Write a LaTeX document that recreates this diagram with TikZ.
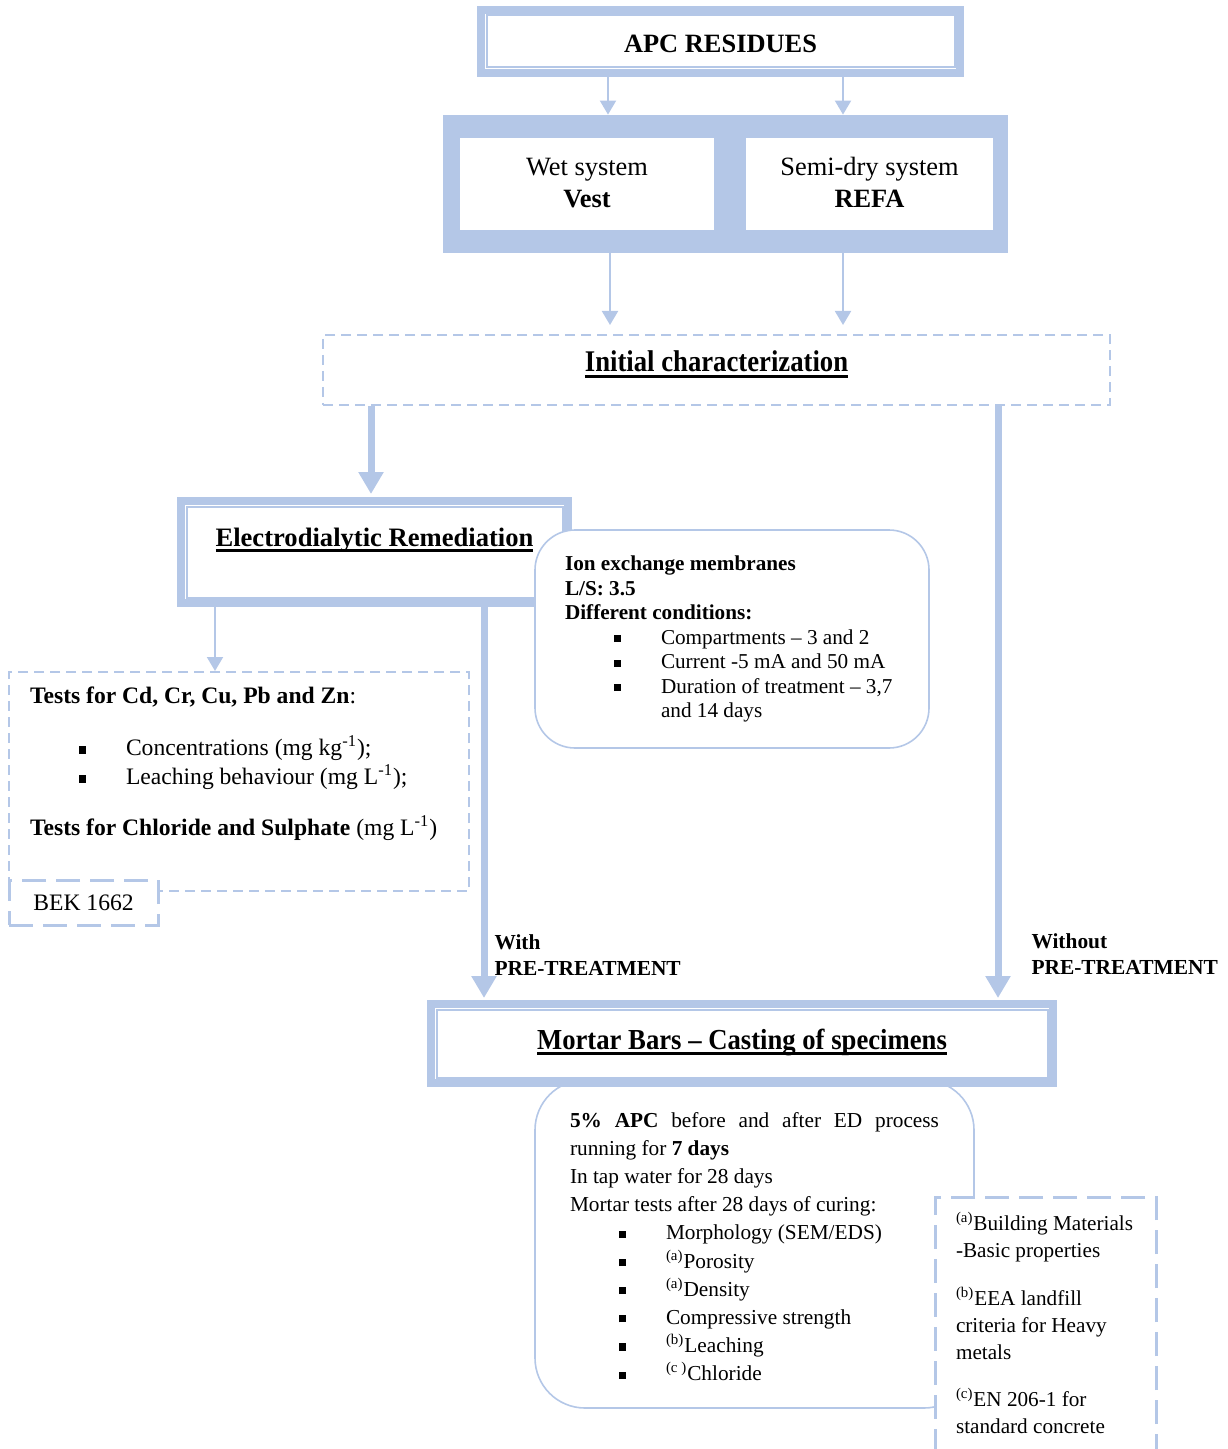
\documentclass[tikz,border=0pt]{standalone}
\usepackage{fontspec}
\setmainfont{Liberation Serif}
\usepackage{graphicx}
\usetikzlibrary{arrows.meta,calc}
\definecolor{lb}{RGB}{180,199,231}
\newsavebox{\ulbox}
\newcommand{\thul}[1]{\sbox{\ulbox}{#1}\rlap{\rule[-3pt]{\wd\ulbox}{1.5pt}}\usebox{\ulbox}}
\newcommand{\sqitem}[1]{\hspace*{24.5pt}\makebox[23.5pt][l]{\rule[1pt]{3.6pt}{3.6pt}}#1}
\begin{document}
\begin{tikzpicture}[x=0.5pt,y=-0.5pt,
  band/.style={draw=lb, line width=4pt, fill=white, inner sep=0pt},
  thinarr/.style={draw=lb, line width=1pt, -{Triangle[width=8pt,length=7pt]}},
  thickarr/.style={draw=lb, line width=3.5pt, -{Triangle[width=12pt,length=11pt]}},
  dashbox/.style={draw=lb, line width=1pt, dash pattern=on 5pt off 3pt, fill=white},
  longdash/.style={draw=lb, line width=1.5pt, dash pattern=on 12pt off 5pt, fill=white},
  roundbox/.style={draw=lb, line width=0.8pt, fill=white},
  innerline/.style={draw=lb, line width=1pt},
  lbl/.style={inner sep=0pt, align=left, font=\fontsize{10.7pt}{13pt}\selectfont\bfseries}
]
\useasboundingbox (0,0) rectangle (1227,1449);

% APC residues
\node[band, minimum width=239.5pt, minimum height=31.5pt] (apc) at (720.5,41.5)
  {\raisebox{-5.75pt}[0pt][0pt]{\fontsize{13.2pt}{15pt}\selectfont\bfseries APC RESIDUES}};
\draw[innerline] ([shift={(4.75pt,-4.75pt)}]apc.north west) rectangle ([shift={(-4.75pt,4.75pt)}]apc.south east);

% systems
\node[fill=lb, minimum width=282.5pt, minimum height=69pt, inner sep=0pt] (sys) at (725.5,184) {};
\node[fill=white, inner sep=0pt, minimum width=127pt, minimum height=46pt, align=center,
  font=\fontsize{13.2pt}{16pt}\selectfont] (wet) at (587,184) {\raisebox{1.5pt}{Wet system}\\\raisebox{1.5pt}{\textbf{Vest}}};
\node[fill=white, inner sep=0pt, minimum width=123.5pt, minimum height=46pt, align=center,
  font=\fontsize{13.2pt}{16pt}\selectfont] (semi) at (869.5,184) {\raisebox{1.5pt}{Semi-dry system}\\\raisebox{1.5pt}{\textbf{REFA}}};

% initial characterization
\node[dashbox, inner sep=0pt, minimum width=393.5pt, minimum height=35pt] (init) at (716.5,370)
  {\raisebox{-1pt}[0pt][0pt]{\fontsize{15pt}{18pt}\selectfont\bfseries\thul{\scalebox{0.89}[1]{Initial characterization}}}};

% electrodialytic remediation
\node[band, minimum width=193.5pt, minimum height=51pt] (er) at (374.5,552)
  {\raisebox{3pt}[0pt][0pt]{\fontsize{13.3pt}{16pt}\selectfont\bfseries\thul{Electrodialytic Remediation}}};
\draw[innerline] ([shift={(4.75pt,-4.75pt)}]er.north west) rectangle ([shift={(-4.75pt,4.75pt)}]er.south east);

% ion exchange box
\node[roundbox, rounded corners=20pt, inner xsep=5pt, inner ysep=13pt] (ion) at (732,639)
  {\begin{minipage}[t][83pt][t]{187pt}\fontsize{10.6pt}{12.25pt}\selectfont\leftskip=10pt
  \textbf{Ion exchange membranes}\\
  \textbf{L/S: 3.5}\\
  \textbf{Different conditions:}\\
  \sqitem{Compartments – 3 and 2}\\
  \sqitem{Current -5 mA and 50 mA}\\
  \sqitem{Duration of treatment – 3,7}\\
  \hspace*{48pt}and 14 days
  \end{minipage}};

% tests box
\node[dashbox, inner xsep=3pt, inner ysep=7.5pt] (tests) at (239,781.5)
  {\begin{minipage}[t][94.5pt][t]{224pt}\fontsize{11.8pt}{14.5pt}\selectfont\leftskip=7.5pt
  \textbf{Tests for Cd, Cr, Cu, Pb and Zn}:\\[11.5pt]
  \sqitem{Concentrations (mg kg\textsuperscript{-1});}\\
  \sqitem{Leaching behaviour (mg L\textsuperscript{-1});}\\[11pt]
  \textbf{Tests for Chloride and Sulphate} (mg L\textsuperscript{-1})
  \end{minipage}};

% BEK
\node[longdash, inner sep=0pt, minimum width=74.5pt, minimum height=22.5pt,
  font=\fontsize{11.8pt}{14pt}\selectfont] (bek) at (83.5,902.5) {\raisebox{-1pt}{BEK 1662}};

% bottom box
\node[roundbox, rounded corners=25pt, inner xsep=17.5pt, inner ysep=16pt] (res) at (754.5,1244)
  {\begin{minipage}[t][132pt][t]{184.5pt}\fontsize{10.65pt}{14.1pt}\selectfont
  \makebox[184.5pt][s]{\textbf{5\% APC} before and after ED process}\\
  running for \textbf{7 days}\\
  In tap water for 28 days\\
  Mortar tests after 28 days of curing:\\
  \sqitem{Morphology (SEM/EDS)}\\
  \sqitem{\textsuperscript{(a)}Porosity}\\
  \sqitem{\textsuperscript{(a)}Density}\\
  \sqitem{Compressive strength}\\
  \sqitem{\textsuperscript{(b)}Leaching}\\
  \sqitem{\textsuperscript{(c )}Chloride}
  \end{minipage}};

% legend
\node[longdash, inner xsep=5pt, inner ysep=7.5pt] (leg) at (1045.5,1336)
  {\begin{minipage}[t][124pt][t]{100.5pt}\fontsize{10.6pt}{13.5pt}\selectfont\leftskip=5.5pt
  \textsuperscript{(a)}Building Materials\\
  -Basic properties\\[10.5pt]
  \textsuperscript{(b)}EEA landfill\\
  criteria for Heavy\\
  metals\\[10pt]
  \textsuperscript{(c)}EN 206-1 for\\
  standard concrete
  \end{minipage}};

% mortar bars
\node[band, minimum width=311pt, minimum height=39.5pt] (mortar) at (742,1043.5)
  {\raisebox{-2.75pt}[0pt][0pt]{\fontsize{14.5pt}{17pt}\selectfont\bfseries\thul{\scalebox{0.92}[1]{Mortar Bars – Casting of specimens}}}};
\draw[innerline] ([shift={(4.75pt,-4.75pt)}]mortar.north west) rectangle ([shift={(-4.75pt,4.75pt)}]mortar.south east);

% connectors
\draw[thinarr] ([xshift=-56.25pt]apc.south) -- ([xshift=-56.25pt]apc.south |- sys.north);
\draw[thinarr] ([xshift=61.25pt]apc.south) -- ([xshift=61.25pt]apc.south |- sys.north);
\draw[thinarr, shorten >=4.5pt] ([xshift=-57.75pt]sys.south) -- ([xshift=-57.75pt]sys.south |- init.north);
\draw[thinarr, shorten >=4.5pt] ([xshift=58.75pt]sys.south) -- ([xshift=58.75pt]sys.south |- init.north);
\draw[thickarr, shorten >=1.5pt] ([xshift=-1.75pt]init.south -| er.north) -- ([xshift=-1.75pt]er.north);
\draw[thinarr] ([xshift=-79.75pt]er.south) -- ([xshift=-79.75pt]er.south |- tests.north);
\draw[thickarr, shorten >=1pt] ([xshift=54.75pt]er.south) -- ([xshift=54.75pt]er.south |- mortar.north)
  node[lbl, pos=0.885, anchor=west, xshift=3.5pt] {With\\PRE-TREATMENT};
\draw[thickarr, shorten >=1pt] ([xshift=140.75pt]init.south) -- ([xshift=140.75pt]init.south |- mortar.north)
  node[lbl, pos=0.923, anchor=west, xshift=15pt] {Without\\PRE-TREATMENT};
\end{tikzpicture}
\end{document}
